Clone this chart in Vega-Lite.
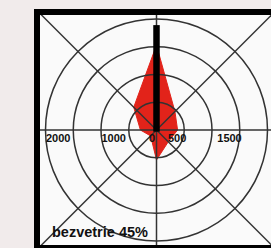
{
  "$schema": "https://vega.github.io/schema/vega-lite/v6.json",
  "width": 234,
  "height": 236,
  "autosize": {"type": "none"},
  "padding": {"left": 37, "top": 12, "right": 0, "bottom": 0},
  "background": "#f1ebeb",
  "view": {"fill": "#fafafa", "stroke": null},
  "config": {"axis": {"disable": true}},
  "datasets": {
    "rose": [
      {"dir": "N", "order": 0, "x": 0, "y": 1530},
      {"dir": "NE", "order": 1, "x": 332, "y": 332},
      {"dir": "E", "order": 2, "x": 380, "y": 0},
      {"dir": "SE", "order": 3, "x": 212, "y": -212},
      {"dir": "S", "order": 4, "x": 0, "y": -540},
      {"dir": "SW", "order": 5, "x": -106, "y": -106},
      {"dir": "W", "order": 6, "x": -290, "y": 0},
      {"dir": "NW", "order": 7, "x": -410, "y": 410}
    ],
    "rings": [{"r": 500}, {"r": 1000}, {"r": 1500}, {"r": 2000}],
    "bar": [{"dir": "N", "value": 1890}],
    "labels": [
      {"label": "2000", "pos": -2000, "side": "L"},
      {"label": "1000", "pos": -1000, "side": "L"},
      {"label": "0", "pos": 0, "side": "C"},
      {"label": "500", "pos": 500, "side": "R"},
      {"label": "1500", "pos": 1500, "side": "R"}
    ]
  },
  "layer": [
    {
      "data": {"name": "rose"},
      "mark": {"type": "line", "interpolate": "linear-closed", "fill": "#e2231a", "stroke": "#e2231a", "strokeWidth": 1, "strokeJoin": "miter"},
      "encoding": {
        "x": {"field": "x", "type": "quantitative", "scale": {"domain": [-2153.2, 2063.1], "nice": false, "zero": false}, "axis": null},
        "y": {"field": "y", "type": "quantitative", "scale": {"domain": [-2126.1, 2126.1], "nice": false, "zero": false}, "axis": null},
        "order": {"field": "order", "type": "quantitative"}
      }
    },
    {
      "data": {"name": "rings"},
      "mark": {"type": "arc", "theta": 0, "theta2": 6.2832, "filled": false, "stroke": "#333333", "strokeWidth": 1.5},
      "encoding": {
        "x": {"datum": 0, "type": "quantitative", "scale": {"domain": [-2153.2, 2063.1], "nice": false, "zero": false}, "axis": null},
        "y": {"datum": 0, "type": "quantitative", "scale": {"domain": [-2126.1, 2126.1], "nice": false, "zero": false}, "axis": null},
        "radius": {"field": "r", "type": "quantitative", "stack": null, "scale": {"type": "linear", "domain": [0, 2000], "range": [0, 111], "zero": true}}
      }
    },
    {
      "data": {"values": [{}]},
      "mark": {"type": "rule", "stroke": "#333333", "strokeWidth": 1.5},
      "encoding": {
        "x": {"datum": -2153.2, "type": "quantitative", "scale": {"domain": [-2153.2, 2063.1], "nice": false, "zero": false}, "axis": null},
        "x2": {"datum": 2400},
        "y": {"datum": 0, "type": "quantitative", "scale": {"domain": [-2126.1, 2126.1], "nice": false, "zero": false}, "axis": null}
      }
    },
    {
      "data": {"values": [{}]},
      "mark": {"type": "rule", "stroke": "#333333", "strokeWidth": 1.5},
      "encoding": {
        "x": {"datum": 0, "type": "quantitative", "scale": {"domain": [-2153.2, 2063.1], "nice": false, "zero": false}, "axis": null},
        "y": {"datum": -2126.1, "type": "quantitative", "scale": {"domain": [-2126.1, 2126.1], "nice": false, "zero": false}, "axis": null},
        "y2": {"datum": 2126.1}
      }
    },
    {
      "data": {"values": [{}]},
      "mark": {"type": "rule", "stroke": "#333333", "strokeWidth": 1.5},
      "encoding": {
        "x": {"datum": -2126.1, "type": "quantitative", "scale": {"domain": [-2153.2, 2063.1], "nice": false, "zero": false}, "axis": null},
        "y": {"datum": 2126.1, "type": "quantitative", "scale": {"domain": [-2126.1, 2126.1], "nice": false, "zero": false}, "axis": null},
        "x2": {"datum": 2126.1},
        "y2": {"datum": -2126.1}
      }
    },
    {
      "data": {"values": [{}]},
      "mark": {"type": "rule", "stroke": "#333333", "strokeWidth": 1.5},
      "encoding": {
        "x": {"datum": -2126.1, "type": "quantitative", "scale": {"domain": [-2153.2, 2063.1], "nice": false, "zero": false}, "axis": null},
        "y": {"datum": -2126.1, "type": "quantitative", "scale": {"domain": [-2126.1, 2126.1], "nice": false, "zero": false}, "axis": null},
        "x2": {"datum": 2126.1},
        "y2": {"datum": 2126.1}
      }
    },
    {
      "data": {"name": "bar"},
      "mark": {"type": "rule", "stroke": "#000000", "strokeWidth": 6.5, "strokeCap": "butt"},
      "encoding": {
        "x": {"datum": 0, "type": "quantitative", "scale": {"domain": [-2153.2, 2063.1], "nice": false, "zero": false}, "axis": null},
        "y": {"field": "value", "type": "quantitative", "scale": {"domain": [-2126.1, 2126.1], "nice": false, "zero": false}, "axis": null},
        "y2": {"datum": -30}
      }
    },
    {
      "data": {"name": "labels"},
      "transform": [{"filter": "datum.side == 'L'"}],
      "mark": {"type": "text", "align": "left", "baseline": "alphabetic", "dx": 0.5, "dy": 11.5, "font": "Liberation Sans", "fontWeight": "bold", "fontSize": 11, "color": "#111111"},
      "encoding": {
        "x": {"field": "pos", "type": "quantitative", "scale": {"domain": [-2153.2, 2063.1], "nice": false, "zero": false}, "axis": null},
        "y": {"datum": 0, "type": "quantitative", "scale": {"domain": [-2126.1, 2126.1], "nice": false, "zero": false}, "axis": null},
        "text": {"field": "label"}
      }
    },
    {
      "data": {"name": "labels"},
      "transform": [{"filter": "datum.side == 'R'"}],
      "mark": {"type": "text", "align": "right", "baseline": "alphabetic", "dx": 2, "dy": 11.5, "font": "Liberation Sans", "fontWeight": "bold", "fontSize": 11, "color": "#111111"},
      "encoding": {
        "x": {"field": "pos", "type": "quantitative", "scale": {"domain": [-2153.2, 2063.1], "nice": false, "zero": false}, "axis": null},
        "y": {"datum": 0, "type": "quantitative", "scale": {"domain": [-2126.1, 2126.1], "nice": false, "zero": false}, "axis": null},
        "text": {"field": "label"}
      }
    },
    {
      "data": {"name": "labels"},
      "transform": [{"filter": "datum.side == 'C'"}],
      "mark": {"type": "text", "align": "center", "baseline": "alphabetic", "dx": -4.5, "dy": 11.5, "font": "Liberation Sans", "fontWeight": "bold", "fontSize": 11, "color": "#111111"},
      "encoding": {
        "x": {"field": "pos", "type": "quantitative", "scale": {"domain": [-2153.2, 2063.1], "nice": false, "zero": false}, "axis": null},
        "y": {"datum": 0, "type": "quantitative", "scale": {"domain": [-2126.1, 2126.1], "nice": false, "zero": false}, "axis": null},
        "text": {"field": "label"}
      }
    },
    {
      "data": {"values": [{"t": "bezvetrie 45%"}]},
      "mark": {"type": "text", "align": "left", "baseline": "alphabetic", "font": "Liberation Sans", "fontWeight": "bold", "fontSize": 14.5, "color": "#111111"},
      "encoding": {
        "x": {"datum": -1883, "type": "quantitative", "scale": {"domain": [-2153.2, 2063.1], "nice": false, "zero": false}, "axis": null},
        "y": {"datum": -1928, "type": "quantitative", "scale": {"domain": [-2126.1, 2126.1], "nice": false, "zero": false}, "axis": null},
        "text": {"field": "t"}
      }
    },
    {
      "data": {"values": [{}]},
      "mark": {"type": "rect", "filled": false, "stroke": "#000000", "strokeWidth": 6, "strokeJoin": "miter"},
      "encoding": {
        "x": {"datum": -2153.2, "type": "quantitative", "scale": {"domain": [-2153.2, 2063.1], "nice": false, "zero": false}, "axis": null},
        "x2": {"datum": 2400},
        "y": {"datum": -2126.1, "type": "quantitative", "scale": {"domain": [-2126.1, 2126.1], "nice": false, "zero": false}, "axis": null},
        "y2": {"datum": 2126.1}
      }
    }
  ]
}
